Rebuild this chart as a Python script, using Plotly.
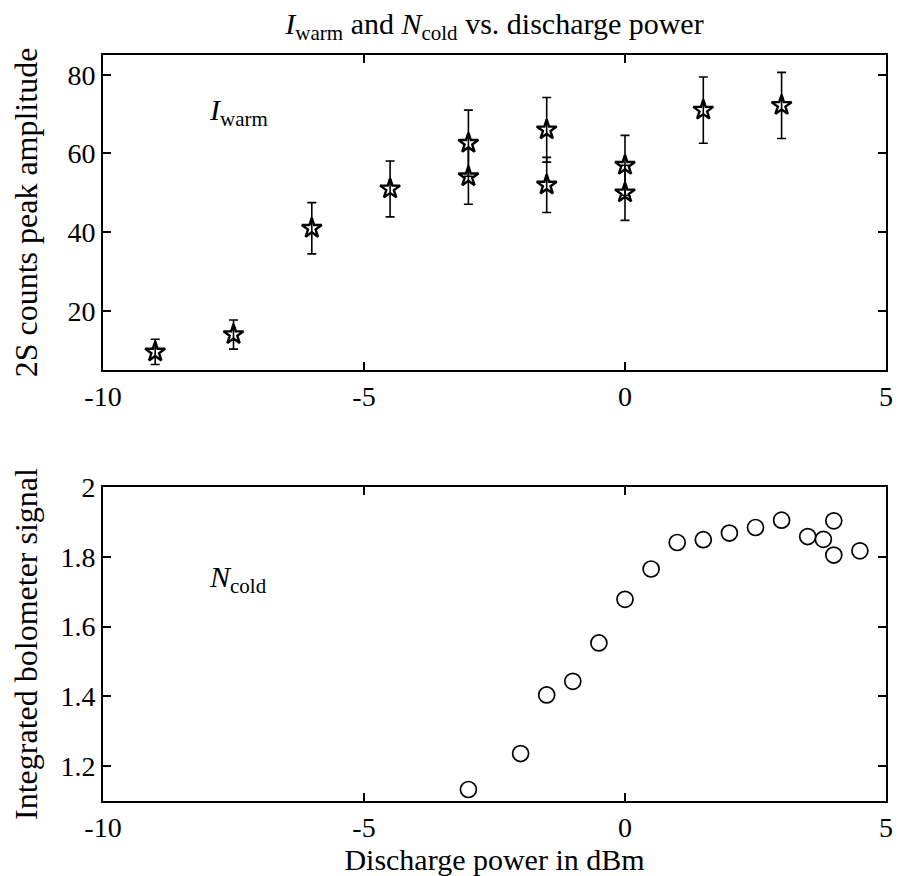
import plotly.graph_objects as go

# ---- data ----
warm_x = [-9, -7.5, -6, -4.5, -3, -3, -1.5, -1.5, 0, 0, 1.5, 3]
warm_y = [9.6, 14, 41, 51, 62.6, 54.1, 66, 52, 57, 50, 71, 72.2]
warm_err = [3.2, 3.7, 6.5, 7.1, 8.4, 7.0, 8.2, 7.0, 7.6, 7.0, 8.4, 8.4]

cold_x = [-3, -2, -1.5, -1, -0.5, 0, 0.5, 1, 1.5, 2, 2.5, 3, 3.5, 3.8, 4, 4, 4.5]
cold_y = [1.133, 1.236, 1.404, 1.443, 1.553, 1.678, 1.765, 1.841, 1.849, 1.868,
          1.884, 1.905, 1.858, 1.850, 1.903, 1.805, 1.817]

x_ticks = [-10, -5, 0, 5]
x_ticktext = ["-10", "-5", "0", "5"]
top_yticks = [20, 40, 60, 80]
bot_yticks = [1.2, 1.4, 1.6, 1.8, 2.0]
bot_yticktext = ["1.2", "1.4", "1.6", "1.8", "2"]

FONT = "Liberation Serif"

fig = go.Figure()

fig.add_trace(go.Scatter(
    x=warm_x, y=warm_y, mode="markers",
    marker=dict(symbol="star-open", size=15, color="black", line=dict(width=2.4, color="black")),
    error_y=dict(type="data", array=warm_err, visible=True, color="black", thickness=1.6, width=4.5),
    xaxis="x", yaxis="y", showlegend=False,
))

fig.add_trace(go.Scatter(
    x=cold_x, y=cold_y, mode="markers",
    marker=dict(symbol="circle-open", size=16, color="black", line=dict(width=1.7, color="black")),
    xaxis="x2", yaxis="y2", showlegend=False,
))

axis_common = dict(
    showline=True, linecolor="black", linewidth=1.8, mirror="ticks",
    ticks="inside", ticklen=8, tickwidth=1.5, tickcolor="black",
    showgrid=False, zeroline=False, automargin=False,
    ticklabeloverflow="allow",
    tickfont=dict(family=FONT, size=28, color="black"),
)

ytitle_font = dict(family=FONT, size=32, color="black")
xtitle_font = dict(family=FONT, size=30, color="black")

fig.update_layout(
    width=886, height=868,
    margin=dict(l=95, r=8, t=47, b=75),
    paper_bgcolor="white", plot_bgcolor="white",
    font=dict(family=FONT, color="black"),
    title=dict(
        text="<i>I</i><sub>warm</sub> and <i>N</i><sub>cold</sub> vs. discharge power",
        x=0.5, xref="paper", xanchor="center", y=0.9944, yref="container", yanchor="top",
        font=dict(family=FONT, size=30, color="black"),
    ),
    xaxis=dict(domain=[0, 1], range=[-10, 5], tickvals=x_ticks, ticktext=x_ticktext,
               anchor="y", **axis_common),
    yaxis=dict(domain=[0.5777, 1], range=[5, 85], tickvals=top_yticks,
               anchor="x",
               title=dict(text="2S counts peak amplitude", standoff=30, font=ytitle_font),
               **axis_common),
    xaxis2=dict(domain=[0, 1], range=[-10, 5], tickvals=x_ticks, ticktext=x_ticktext,
                anchor="y2",
                title=dict(text="Discharge power in dBm", standoff=8, font=xtitle_font),
                **axis_common),
    yaxis2=dict(domain=[0, 0.4209], range=[1.1, 2.0], tickvals=bot_yticks,
                ticktext=bot_yticktext, anchor="x2",
                title=dict(text="Integrated bolometer signal", standoff=22, font=ytitle_font),
                **axis_common),
    annotations=[
        dict(x=-8.0, y=70.6, xref="x", yref="y", xanchor="left", yanchor="middle",
             text="<i>I</i><sub>warm</sub>", showarrow=False,
             font=dict(family=FONT, size=30, color="black")),
        dict(x=-8.0, y=1.737, xref="x2", yref="y2", xanchor="left", yanchor="middle",
             text="<i>N</i><sub>cold</sub>", showarrow=False,
             font=dict(family=FONT, size=30, color="black")),
    ],
)

fig.write_html("out.html")
